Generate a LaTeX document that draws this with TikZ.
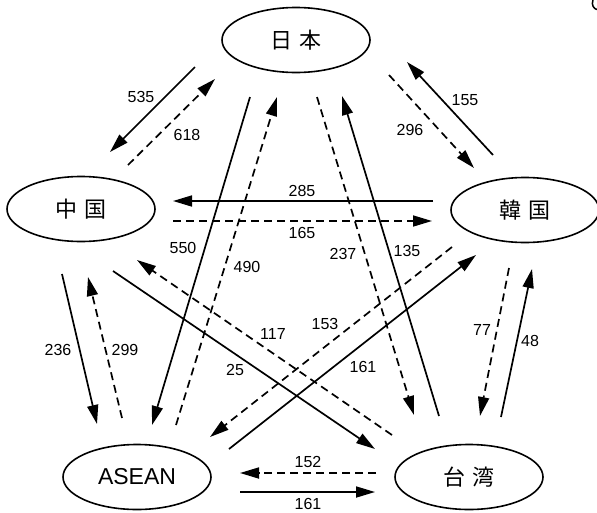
\documentclass[tikz,border=0pt]{standalone}
\usepackage{fontspec}
\setmainfont{Liberation Sans}
\newfontfamily\cjk{Noto Sans CJK JP}
\usetikzlibrary{arrows.meta,shapes.geometric}

\tikzset{
  flow/.style={line width=1.7pt, -{Triangle[length=19pt,width=11pt]}},
  solidflow/.style={flow},
  dashflow/.style={flow, dash pattern=on 8pt off 5pt},
  country/.style={ellipse, draw, line width=1.6pt, minimum width=148pt,
    minimum height=65pt, inner sep=0pt, font=\cjk\fontsize{22}{24}\selectfont},
  latinname/.style={font=\fontsize{23}{25}\selectfont},
  num/.style={font=\fontsize{16}{18}\selectfont, inner sep=0pt}
}

\begin{document}
\begin{tikzpicture}[x=1pt, y=-1pt]
\useasboundingbox (0,0) rectangle (597,512);

% countries
\node[country] (jp)    at (296,40)  {日\hspace{7pt}本};
\node[country] (cn)    at (81,209)  {中\hspace{7pt}国};
\node[country] (kr)    at (525,210) {韓\hspace{7pt}国};
\node[country, latinname] (asean) at (137,477) {ASEAN};
\node[country] (tw)    at (469,477) {台\hspace{7pt}湾};

% end points of the flows
\coordinate (jpcn-s) at (195,67);  \coordinate (jpcn-e) at (110,152);
\coordinate (cnjp-s) at (128,165); \coordinate (cnjp-e) at (215,79);
\coordinate (krjp-s) at (493,155); \coordinate (krjp-e) at (407,62);
\coordinate (jpkr-s) at (389,75);  \coordinate (jpkr-e) at (474,168);
\coordinate (krcn-s) at (433,201); \coordinate (krcn-e) at (173,201);
\coordinate (cnkr-s) at (173,221); \coordinate (cnkr-e) at (432,221);
\coordinate (jpas-s) at (250,97);  \coordinate (jpas-e) at (152,425);
\coordinate (asjp-s) at (176,425); \coordinate (asjp-e) at (277,97);
\coordinate (jptw-s) at (317,97);  \coordinate (jptw-e) at (414,415);
\coordinate (twjp-s) at (439,416); \coordinate (twjp-e) at (342,96);
\coordinate (cnas-s) at (62,274);  \coordinate (cnas-e) at (97,424);
\coordinate (ascn-s) at (122,418); \coordinate (ascn-e) at (88,277);
\coordinate (krtw-s) at (509,268); \coordinate (krtw-e) at (480,416);
\coordinate (twkr-s) at (501,417); \coordinate (twkr-e) at (532,269);
\coordinate (kras-s) at (452,247); \coordinate (kras-e) at (210,437);
\coordinate (askr-s) at (229,449); \coordinate (askr-e) at (476,255);
\coordinate (twcn-s) at (392,435); \coordinate (twcn-e) at (137,260);
\coordinate (cntw-s) at (113,271); \coordinate (cntw-e) at (375,449);
\coordinate (twas-s) at (376,473); \coordinate (twas-e) at (240,473);
\coordinate (astw-s) at (240,492); \coordinate (astw-e) at (375,492);

% flows
\draw[solidflow] (jpcn-s) -- (jpcn-e);
\draw[dashflow]  (cnjp-s) -- (cnjp-e);
\draw[solidflow] (krjp-s) -- (krjp-e);
\draw[dashflow]  (jpkr-s) -- (jpkr-e);
\draw[solidflow] (krcn-s) -- (krcn-e);
\draw[dashflow]  (cnkr-s) -- (cnkr-e);
\draw[solidflow] (jpas-s) -- (jpas-e);
\draw[dashflow]  (asjp-s) -- (asjp-e);
\draw[dashflow]  (jptw-s) -- (jptw-e);
\draw[solidflow] (twjp-s) -- (twjp-e);
\draw[solidflow] (cnas-s) -- (cnas-e);
\draw[dashflow]  (ascn-s) -- (ascn-e);
\draw[dashflow]  (krtw-s) -- (krtw-e);
\draw[solidflow] (twkr-s) -- (twkr-e);
\draw[dashflow]  (kras-s) -- (kras-e);
\draw[solidflow] (askr-s) -- (askr-e);
\draw[dashflow]  (twcn-s) -- (twcn-e);
\draw[solidflow] (cntw-s) -- (cntw-e);
\draw[dashflow]  (twas-s) -- (twas-e);
\draw[solidflow] (astw-s) -- (astw-e);

% values
\node[num] (v535) at (141,97)  {535};
\node[num] (v618) at (187,135) {618};
\node[num] (v155) at (465,100) {155};
\node[num] (v296) at (410,130) {296};
\node[num] (v285) at (302,191) {285};
\node[num] (v165) at (302,233) {165};
\node[num] (v550) at (183,248) {550};
\node[num] (v490) at (247,267) {490};
\node[num] (v237) at (343,254) {237};
\node[num] (v135) at (407,251) {135};
\node[num] (v236) at (58,350)  {236};
\node[num] (v299) at (125,350) {299};
\node[num] (v77)  at (482,330) {77};
\node[num] (v48)  at (530,341) {48};
\node[num] (v153) at (325,324) {153};
\node[num] (v161a) at (363,367) {161};
\node[num] (v117) at (273,334) {117};
\node[num] (v25)  at (235,370) {25};
\node[num] (v152) at (308,462) {152};
\node[num] (v161b) at (308,504) {161};

% clipped mark in the top right corner
\draw[line width=1.5pt] (593,0) .. controls (591,5) and (594,9) .. (597,9.5);
\end{tikzpicture}
\end{document}
